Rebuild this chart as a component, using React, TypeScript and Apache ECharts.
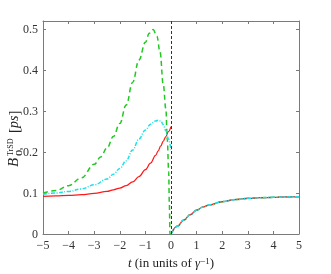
import React, { useEffect, useRef } from "react";
import * as echarts from "echarts";

const xTicks = [-5, -4, -3, -2, -1, 0, 1, 2, 3, 4, 5];
const yTicks = [0, 0.1, 0.2, 0.3, 0.4, 0.5];
const markerT = 0;

const tNeg = [-5, -4.5, -4, -3.5, -3, -2.5, -2.25, -2, -1.75, -1.5, -1.25, -1, -0.8, -0.6, -0.5, -0.4, -0.3, -0.2, -0.1, 0];
const redNeg = [0.092, 0.093, 0.094, 0.096, 0.099, 0.104, 0.108, 0.112, 0.118, 0.127, 0.14, 0.157, 0.173, 0.192, 0.203, 0.215, 0.227, 0.238, 0.25, 0.262];
const cyanNeg = [0.097, 0.1, 0.104, 0.11, 0.12, 0.134, 0.146, 0.16, 0.179, 0.205, 0.232, 0.254, 0.268, 0.276, 0.278, 0.276, 0.267, 0.252, 0.232, 0.205];

const tGreen = [-5, -4.5, -4, -3.5, -3, -2.75, -2.5, -2.25, -2, -1.75, -1.5, -1.25, -1, -0.85, -0.7, -0.55, -0.43, -0.3, -0.2, -0.145, -0.09, -0.065, -0.04, 0];
const greenNeg = [0.1, 0.106, 0.118, 0.137, 0.17, 0.188, 0.21, 0.238, 0.27, 0.315, 0.37, 0.425, 0.468, 0.49, 0.499, 0.483, 0.445, 0.364, 0.305, 0.23, 0.152, 0.075, 0.0, 0.0];

const tPos = [0, 0.25, 0.5, 0.75, 1, 1.25, 1.5, 2, 2.5, 3, 3.5, 4, 4.5, 5];
const posVals = [0, 0.019, 0.034, 0.047, 0.058, 0.066, 0.071, 0.079, 0.084, 0.087, 0.0885, 0.0896, 0.0905, 0.091];

const RED = "#ff1a1a";
const CYAN = "#1ee0e6";
const GREEN = "#22c722";
const FONT = "Liberation Serif";

const pairs = (xs: number[], ys: number[]) => xs.map((x, i) => [x, ys[i]]);

export default function App() {
  const ref = useRef<HTMLDivElement>(null);
  useEffect(() => {
    if (!ref.current) return;
    const chart = echarts.init(ref.current, null, { renderer: "svg" });
    const fmtX = (v: number) => (v < 0 ? "\u2212" + Math.abs(v) : String(v));
    const fmtY = (v: number) => {
      const hit = yTicks.find((t) => Math.abs(t - v) < 1e-9);
      if (hit === undefined) return "";
      return hit === 0 ? "0" : hit.toFixed(1);
    };
    const axisLine = { show: true, onZero: false, lineStyle: { color: "#7a7a7a", width: 1 } };
    const tick = { show: true, inside: true, length: 3, lineStyle: { color: "#7a7a7a" } };
    const labelStyle = { fontFamily: FONT, fontSize: 12, color: "#333" };
    const lineSeries = (name: string, data: number[][], color: string, type: any, width: number, z: number) => ({
      name,
      type: "line",
      data,
      showSymbol: false,
      symbol: "none",
      smooth: 0.4,
      smoothMonotone: "x",
      z,
      lineStyle: { color, width, type },
    });
    chart.setOption({
      animation: false,
      grid: { left: 43, right: 32, top: 21, bottom: 33, containLabel: false },
      xAxis: [
        {
          type: "value",
          min: xTicks[0],
          max: xTicks[xTicks.length - 1],
          interval: 1,
          axisLine,
          axisTick: tick,
          splitLine: { show: false },
          axisLabel: { ...labelStyle, margin: 5, formatter: fmtX },
          name: "{i|t} (in units of {i|\u03b3}{s|\u22121})",
          nameLocation: "middle",
          nameGap: 22,
          nameTextStyle: {
            fontFamily: FONT,
            fontSize: 13,
            color: "#222",
            rich: {
              i: { fontFamily: FONT, fontSize: 13, fontStyle: "italic", color: "#222" },
              s: { fontFamily: FONT, fontSize: 9, color: "#222", verticalAlign: "top" },
            },
          },
        },
        {
          type: "value",
          position: "top",
          min: xTicks[0],
          max: xTicks[xTicks.length - 1],
          interval: 1,
          axisLine,
          axisTick: tick,
          axisLabel: { show: false },
          splitLine: { show: false },
        },
      ],
      yAxis: [
        {
          type: "value",
          min: 0,
          max: 0.52,
          interval: 0.1,
          axisLine,
          axisTick: tick,
          splitLine: { show: false },
          axisLabel: { ...labelStyle, margin: 5, formatter: fmtY, showMaxLabel: false },
        },
        {
          type: "value",
          position: "right",
          min: 0,
          max: 0.52,
          interval: 0.1,
          axisLine,
          axisTick: tick,
          axisLabel: { show: false },
          splitLine: { show: false },
        },
      ],
      graphic: [
        {
          type: "group",
          x: 20,
          y: 167,
          rotation: Math.PI / 2,
          children: [
            {
              type: "text",
              x: 0,
              y: 0,
              style: { text: "B", fontFamily: FONT, fontStyle: "italic", fontSize: 15, fill: "#222", textVerticalAlign: "bottom" },
            },
            {
              type: "text",
              x: 11,
              y: -6,
              style: { text: "TrSD", fontFamily: FONT, fontSize: 8, fill: "#222", textVerticalAlign: "bottom" },
            },
            {
              type: "text",
              x: 11,
              y: 3,
              style: { text: "O", fontFamily: FONT, fontWeight: "bold", fontSize: 8, fill: "#222", textVerticalAlign: "bottom" },
            },
            {
              type: "text",
              x: 17,
              y: 4,
              style: { text: "s", fontFamily: FONT, fontSize: 6, fill: "#222", textVerticalAlign: "bottom" },
            },
            {
              type: "text",
              x: 34,
              y: 1,
              style: {
                text: "{n|[}{i|ps}{n|]}",
                fontFamily: FONT,
                fontSize: 15,
                fill: "#222",
                textVerticalAlign: "bottom",
                rich: {
                  n: { fontFamily: FONT, fontSize: 15, fill: "#222" },
                  i: { fontFamily: FONT, fontSize: 14, fontStyle: "italic", fill: "#222" },
                },
              },
            },
          ],
        },
      ],
      series: [
        lineSeries("greenNeg", pairs(tGreen, greenNeg), GREEN, [5, 3.5], 1.5, 1),
        lineSeries("greenPos", pairs(tPos, posVals), GREEN, [5, 3.5], 1.5, 1),
        lineSeries("redNeg", pairs(tNeg, redNeg), RED, "solid", 1.25, 2),
        lineSeries("redPos", pairs(tPos, posVals), RED, "solid", 1.25, 2),
        lineSeries("cyanNeg", pairs(tNeg, cyanNeg), CYAN, [4, 1.5, 1, 1.5], 1.5, 3),
        {
          ...lineSeries("cyanPos", pairs(tPos, posVals), CYAN, [4, 1.5, 1, 1.5], 1.6, 3),
          markLine: {
            silent: true,
            symbol: "none",
            label: { show: false },
            lineStyle: { color: "#333", width: 1, type: [3, 2] },
            data: [{ xAxis: markerT }],
          },
        },
      ],
    });
    return () => chart.dispose();
  }, []);
  return <div ref={ref} style={{ position: "fixed", left: 0, top: 0, width: 331, height: 274 }} />;
}
